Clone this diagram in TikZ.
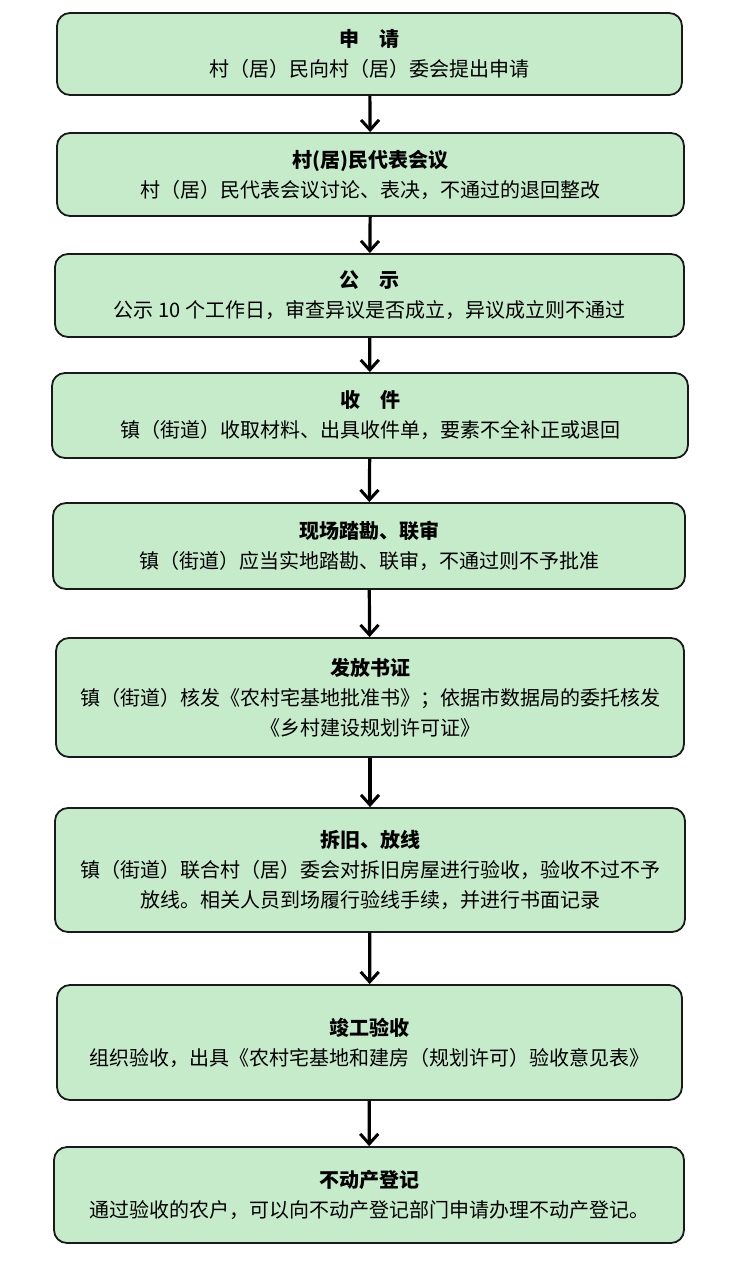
\documentclass[tikz,border=0pt]{standalone}
\usepackage{fontspec}
\newfontfamily\cjk{Noto Sans CJK SC}
\usetikzlibrary{arrows.meta, positioning}
\definecolor{stepgreen}{HTML}{C6EBCB}
\definecolor{stepedge}{HTML}{1A1A1A}

\begin{document}
\begin{tikzpicture}[x=1pt, y=-1pt,
    stepbox/.style={draw=stepedge, fill=stepgreen, line width=1.8pt,
      rounded corners=13pt, align=center, inner sep=0pt,
      font=\cjk\fontsize{20}{30}\selectfont},
    flow/.style={-{Straight Barb[length=10pt, width=18pt, line width=3pt]},
      line width=3.2pt, black}]
  \useasboundingbox (0,0) rectangle (732,1265);

  % steps, top to bottom
  \node[stepbox, minimum width=625pt, minimum height=82pt] (apply) at (369.5,54)
    {\textbf{申\quad 请}\\村（居）民向村（居）委会提出申请};
  \node[stepbox, minimum width=627pt, minimum height=83pt] (meeting) at (370.5,174.5)
    {\textbf{村(居)民代表会议}\\村（居）民代表会议讨论、表决，不通过的退回整改};
  \node[stepbox, minimum width=629pt, minimum height=83pt] (notice) at (369.5,295.5)
    {\textbf{公\quad 示}\\公示 10 个工作日，审查异议是否成立，异议成立则不通过};
  \node[stepbox, minimum width=636pt, minimum height=85pt] (receive) at (370,415.5)
    {\textbf{收\quad 件}\\镇（街道）收取材料、出具收件单，要素不全补正或退回};
  \node[stepbox, minimum width=632pt, minimum height=86pt] (survey) at (369,546)
    {\textbf{现场踏勘、联审}\\镇（街道）应当实地踏勘、联审，不通过则不予批准};
  \node[stepbox, minimum width=628pt, minimum height=119pt] (issue) at (370,697.5)
    {\textbf{发放书证}\\镇（街道）核发《农村宅基地批准书》；依据市数据局的委托核发\\《乡村建设规划许可证》};
  \node[stepbox, minimum width=630pt, minimum height=124pt] (layout) at (370,870)
    {\textbf{拆旧、放线}\\镇（街道）联合村（居）委会对拆旧房屋进行验收，验收不过不予\\放线。相关人员到场履行验线手续，并进行书面记录};
  \node[stepbox, minimum width=625pt, minimum height=115pt] (accept) at (369.5,1042.5)
    {\textbf{竣工验收}\\组织验收，出具《农村宅基地和建房（规划许可）验收意见表》};
  \node[stepbox, minimum width=630pt, minimum height=96pt] (register) at (369,1195)
    {\textbf{不动产登记}\\通过验收的农户，可以向不动产登记部门申请办理不动产登记。};

  % arrows
  \draw[flow] (apply) -- (meeting);
  \draw[flow] (meeting) -- (notice);
  \draw[flow] (notice) -- (receive);
  \draw[flow] (receive) -- (survey);
  \draw[flow] (survey) -- (issue);
  \draw[flow] (issue) -- (layout);
  \draw[flow] (layout) -- (accept);
  \draw[flow] (accept) -- (register);
\end{tikzpicture}
\end{document}
